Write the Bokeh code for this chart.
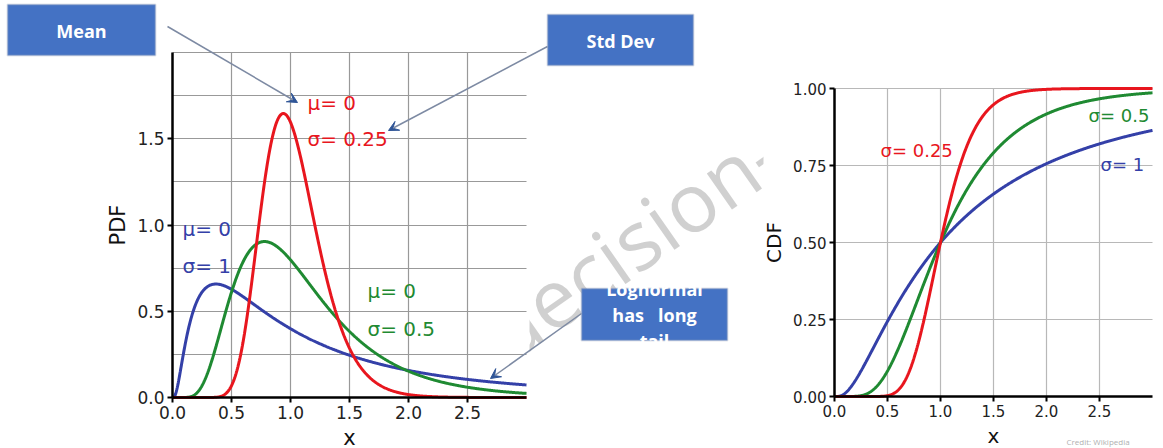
import math
import numpy as np
from bokeh.plotting import figure
from bokeh.models import (Label, BoxAnnotation, Arrow, VeeHead, FixedTicker,
                          PrintfTickFormatter, Range1d, LinearAxis, Grid)
from bokeh.embed import file_html
from bokeh.resources import INLINE

# ---- data -------------------------------------------------------------
mus = [0.0, 0.0, 0.0]
sigmas = [1.0, 0.5, 0.25]
series_colors = ["#3440a8", "#1f8a32", "#e8161e"]
x_ticks = [0.0, 0.5, 1.0, 1.5, 2.0, 2.5]
x_grid = [0.5, 1.0, 1.5, 2.0, 2.5]
pdf_ticks = [0.0, 0.5, 1.0, 1.5]
pdf_grid = [0.25, 0.5, 0.75, 1.0, 1.25, 1.5, 1.75, 2.0]
cdf_ticks = [0.0, 0.25, 0.5, 0.75, 1.0]
cdf_grid = [0.25, 0.5, 0.75, 1.0]
pdf_mu_labels = ["μ= 0", "μ= 0", "μ= 0"]
pdf_sigma_labels = ["σ= 1", "σ= 0.5", "σ= 0.25"]
cdf_sigma_labels = ["σ= 1", "σ= 0.5", "σ= 0.25"]
x_max = 3.0
pdf_max = 2.0
cdf_max = 1.0

xs = np.linspace(0.001, x_max, 700)


def lognorm_pdf(x, mu, s):
    return np.exp(-(np.log(x) - mu) ** 2 / (2 * s * s)) / (x * s * math.sqrt(2 * math.pi))


def lognorm_cdf(x, mu, s):
    return np.array([0.5 * (1 + math.erf((math.log(v) - mu) / (s * math.sqrt(2)))) for v in x])


# ---- geometry (pixels of the 1163x448 canvas) ----------------------------
W, H = 1163, 448
L_left, L_right, L_top, L_bottom = 172, 526, 52, 397   # PDF panel frame
R_left, R_right, R_top, R_bottom = 834, 1152, 88, 396  # CDF panel frame


def span(p0, p1, v0, v1, total):
    """Range so that data v0->pixel p0 and v1->pixel p1 on a canvas of size total."""
    k = (v1 - v0) / (p1 - p0)
    return Range1d(v0 - p0 * k, v0 + (total - p0) * k)


def vspan(p_bottom, p_top, v_bottom, v_top, total):
    k = (v_top - v_bottom) / (p_bottom - p_top)
    return Range1d(v_bottom - (total - p_bottom) * k, v_bottom + p_bottom * k)


p = figure(width=W, height=H, x_range=Range1d(0, W), y_range=Range1d(H, 0),
           x_axis_type=None, y_axis_type=None, title=None,
           output_backend="svg", toolbar_location=None, min_border=0)
p.outline_line_color = None
p.background_fill_color = "white"
p.border_fill_color = "white"
p.extra_x_ranges = {"lx": span(L_left, L_right, 0, x_max, W),
                    "rx": span(R_left, R_right, 0, x_max, W)}
p.extra_y_ranges = {"ly": vspan(L_bottom, L_top, 0, pdf_max, H),
                    "ry": vspan(R_bottom, R_top, 0, cdf_max, H)}

AX_FONT = "DejaVu Sans"

# ---- watermark (behind the chart images) -------------------------------
p.add_layout(Label(x=490, y=339, text="decision-", angle=math.radians(35),
                   text_font="Open Sans", text_font_size="82px",
                   text_color="#c8c8c8", text_alpha=0.85, text_baseline="middle",
                   level="underlay"))
for (l, t, r, b) in [(0, 40, 529, H), (763, 0, W, H)]:
    p.add_layout(BoxAnnotation(left=l, right=r, top=t, bottom=b, fill_color="white",
                               fill_alpha=1.0, line_color=None, level="underlay"))

has_cross = "cross_bounds" in Grid.properties()


def add_panel(xr, yr, ymax, yticks, yfmt, ygrid, gcolor, tick_size, label_size, ylabel):
    # grids
    if has_cross:
        p.add_layout(Grid(dimension=0, ticker=FixedTicker(ticks=x_grid), x_range_name=xr,
                          y_range_name=yr, cross_bounds=(0, ymax),
                          grid_line_color=gcolor, grid_line_width=1.2))
        p.add_layout(Grid(dimension=1, ticker=FixedTicker(ticks=ygrid), x_range_name=xr,
                          y_range_name=yr, cross_bounds=(0, x_max),
                          grid_line_color=gcolor, grid_line_width=1.2))
    else:
        p.segment(x0=x_grid, y0=[0] * len(x_grid), x1=x_grid, y1=[ymax] * len(x_grid),
                  x_range_name=xr, y_range_name=yr, line_color=gcolor, line_width=1.2,
                  level="underlay")
        p.segment(x0=[0] * len(ygrid), y0=ygrid, x1=[x_max] * len(ygrid), y1=ygrid,
                  x_range_name=xr, y_range_name=yr, line_color=gcolor, line_width=1.2,
                  level="underlay")
    xa = LinearAxis(x_range_name=xr, y_range_name=yr, fixed_location=0, bounds=(0, x_max),
                    ticker=FixedTicker(ticks=x_ticks),
                    formatter=PrintfTickFormatter(format="%.1f"), axis_label="x")
    ya = LinearAxis(x_range_name=xr, y_range_name=yr, fixed_location=0, bounds=(0, ymax),
                    ticker=FixedTicker(ticks=yticks),
                    formatter=PrintfTickFormatter(format=yfmt), axis_label=ylabel)
    for ax in (xa, ya):
        ax.axis_line_width = 2.5
        ax.axis_line_color = "black"
        ax.major_tick_line_width = 2
        ax.major_tick_out = 5
        ax.major_tick_in = 0
        ax.minor_tick_line_color = None
        ax.major_label_text_font = AX_FONT
        ax.major_label_text_font_size = tick_size
        ax.major_label_text_color = "#222222"
        ax.major_label_standoff = 3
        ax.axis_label_text_font = AX_FONT
        ax.axis_label_text_font_size = label_size
        ax.axis_label_text_font_style = "normal"
        ax.axis_label_text_color = "#111111"
        ax.axis_label_standoff = 4
    p.add_layout(xa, "below")
    p.add_layout(ya, "left")


# ---- left: PDF ----------------------------------------------------------
add_panel("lx", "ly", pdf_max, pdf_ticks, "%.1f", pdf_grid, "#999999", "17px", "21px", "PDF")
for mu, s, c in zip(mus, sigmas, series_colors):
    p.line(xs, lognorm_pdf(xs, mu, s), x_range_name="lx", y_range_name="ly",
           line_color=c, line_width=3)

# ---- right: CDF ---------------------------------------------------------
add_panel("rx", "ry", cdf_max, cdf_ticks, "%.2f", cdf_grid, "#b8b8b8", "15px", "20px", "CDF")
for mu, s, c in zip(mus, sigmas, series_colors):
    p.line(xs, lognorm_cdf(xs, mu, s), x_range_name="rx", y_range_name="ry",
           line_color=c, line_width=3)

# ---- curve labels (pixel positions) --------------------------------------
pdf_label_pos = [((182, 228), (182, 265)), ((367, 290), (367, 328)), ((307, 102), (307, 138))]
for (mpos, spos), mtxt, stxt, c in zip(pdf_label_pos, pdf_mu_labels, pdf_sigma_labels, series_colors):
    for (x, y), txt in ((mpos, mtxt), (spos, stxt)):
        p.add_layout(Label(x=x, y=y, text=txt, text_color=c, text_font=AX_FONT,
                           text_font_size="20px", text_baseline="middle", text_align="left"))

cdf_label_pos = [(1100, 164), (1088, 115), (880, 150)]
for (x, y), txt, c in zip(cdf_label_pos, cdf_sigma_labels, series_colors):
    p.add_layout(Label(x=x, y=y, text=txt, text_color=c, text_font=AX_FONT,
                       text_font_size="18px", text_baseline="middle", text_align="left"))

# ---- callout boxes and arrows ---------------------------------------------
NB = "\u00a0"
boxes = [((7, 4, 155, 55), ["Mean"], [30]),
         ((547, 14, 693, 65), ["Std Dev"], [40]),
         ((581, 288, 727, 340), ["Lognormal", "has" + NB * 3 + "long", "tail"], [288, 314, 340])]
for (x0, y0, x1, y1), lines, ys in boxes:
    p.add_layout(BoxAnnotation(left=x0, right=x1, top=y0, bottom=y1,
                               fill_color="#4472c4", fill_alpha=1.0,
                               line_color="#a3aabb", line_width=2, level="overlay"))
for (x0, y0, x1, y1), lines, ys in boxes:
    for ln, yy in zip(lines, ys):
        p.add_layout(Label(x=(x0 + x1) / 2, y=yy, text=ln, text_color="white",
                           text_font="Open Sans", text_font_style="bold",
                           text_font_size="18px", text_align="center",
                           text_baseline="middle", level="overlay"))

arrows = [((167, 26), (297, 102)), ((547, 46), (388, 130)), ((581, 313), (490, 378))]
for (sx, sy), (ex, ey) in arrows:
    p.add_layout(Arrow(end=VeeHead(size=10, fill_color="#2f5597", line_color="#2f5597"),
                       x_start=sx, y_start=sy, x_end=ex, y_end=ey,
                       line_color="#7d8aa3", line_width=1.5, level="overlay"))

p.add_layout(Label(x=1066, y=446, text="Credit: Wikipedia", text_color="#b0b0b0",
                   text_font="Open Sans", text_font_size="8px", text_baseline="bottom"))

open("out.html", "w").write(file_html(p, INLINE))
